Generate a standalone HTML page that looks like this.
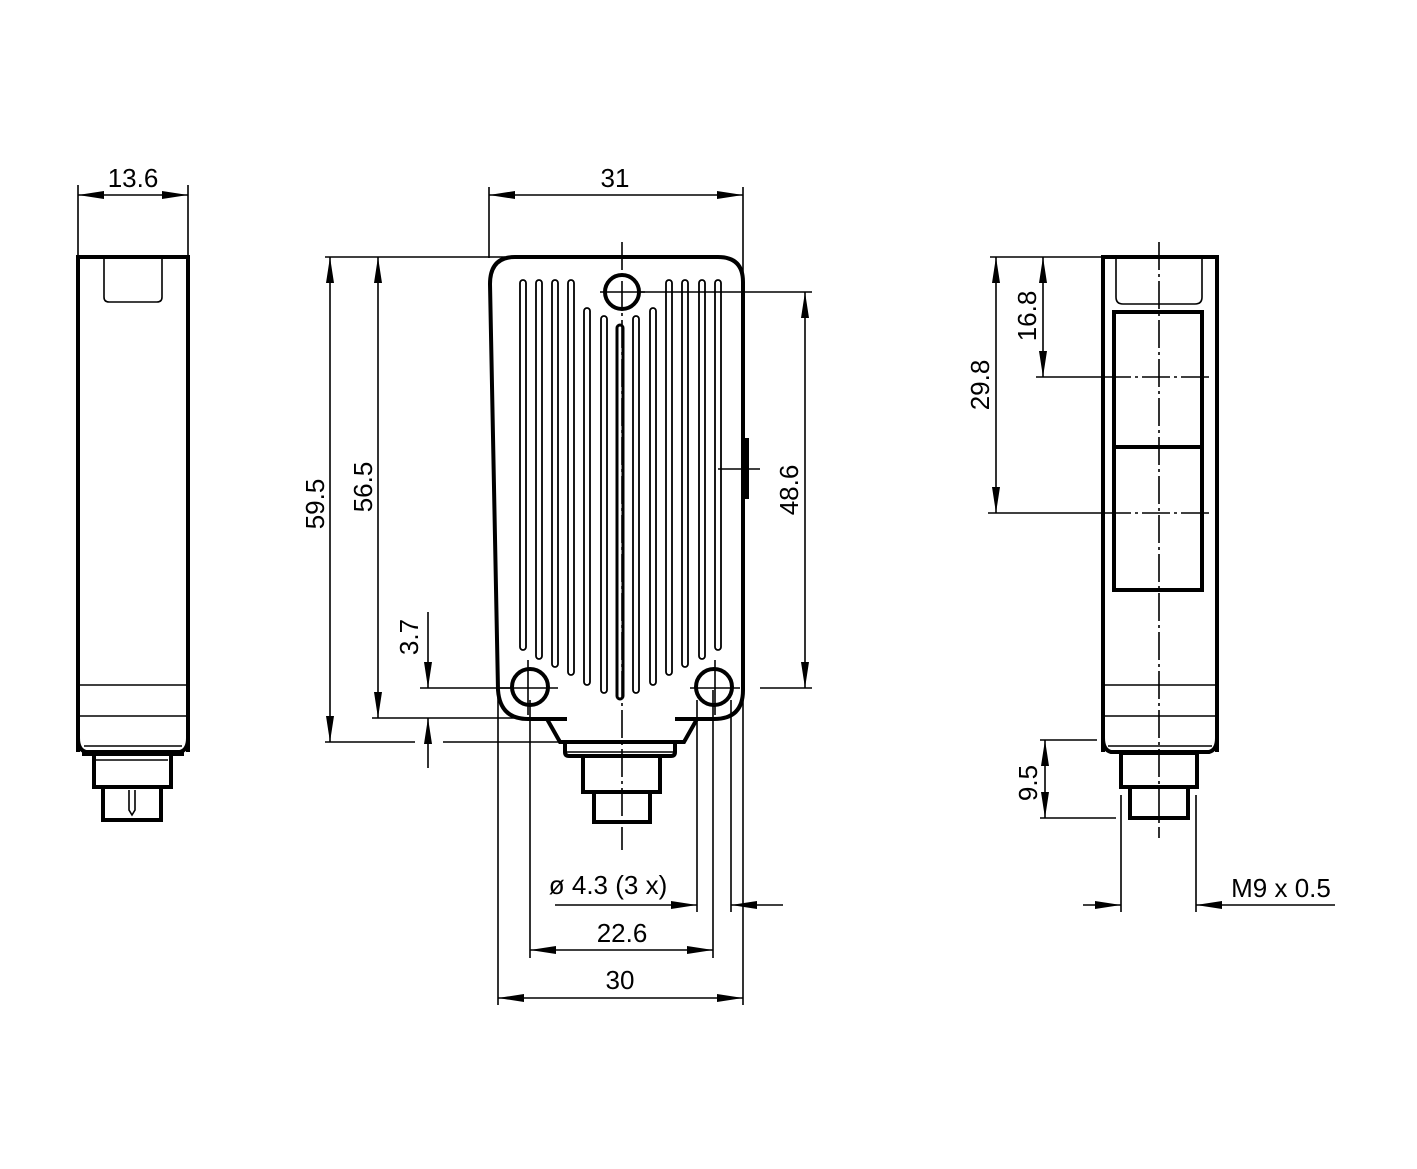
<!DOCTYPE html>
<html><head><meta charset="utf-8"><style>html,body{margin:0;padding:0;background:#fff}svg{display:block}text{font-family:"Liberation Sans",Arial,sans-serif;font-size:26px;fill:#000}</style></head><body>
<svg width="1417" height="1169" viewBox="0 0 1417 1169" xmlns="http://www.w3.org/2000/svg">
<defs>
<marker id="a" viewBox="0 0 26 8" refX="26" refY="4" markerWidth="26" markerHeight="8" markerUnits="userSpaceOnUse" orient="auto-start-reverse"><path d="M0,0 L26,4 L0,8 Z" fill="#000"/></marker>
</defs>
<g fill="none" stroke="#000">
<!-- LEFT VIEW -->
<g stroke-width="1.6">
<line x1="78" y1="185" x2="78" y2="255"/><line x1="188" y1="185" x2="188" y2="255"/>
<line x1="78" y1="195" x2="188" y2="195" marker-start="url(#a)" marker-end="url(#a)"/>
<line x1="78" y1="685" x2="188" y2="685"/><line x1="78" y1="716" x2="188" y2="716"/>
<path d="M104,257 V297 Q104,302 109,302 H157 Q162,302 162,297 V257"/>
<line x1="84" y1="746" x2="182" y2="746"/>
<line x1="96" y1="760" x2="168" y2="760"/>
<path d="M129,790 V810 L132,815 L135,810 V790"/>
</g>
<g stroke-width="4">
<path d="M78,752 V257 H188 V752"/>
<path d="M78,738 Q78,750 86,752 H180 Q188,750 188,738"/>
<path d="M84,752 V754 H182 V752"/>
<rect x="94" y="754" width="77" height="33"/>
<rect x="103" y="787" width="58" height="33"/>
</g>

<!-- MAIN VIEW -->
<g stroke-width="1.6">
<line x1="489" y1="187" x2="489" y2="258"/><line x1="743" y1="187" x2="743" y2="290"/>
<line x1="489" y1="195" x2="743" y2="195" marker-start="url(#a)" marker-end="url(#a)"/>
<line x1="325" y1="257" x2="505" y2="257"/>
<line x1="330" y1="257" x2="330" y2="742" marker-start="url(#a)" marker-end="url(#a)"/>
<line x1="378" y1="257" x2="378" y2="718" marker-start="url(#a)" marker-end="url(#a)"/>
<line x1="325" y1="742" x2="415" y2="742"/><line x1="443" y1="742" x2="565" y2="742"/>
<line x1="372" y1="718" x2="545" y2="718"/>
<line x1="420" y1="688" x2="512" y2="688"/>
<line x1="428" y1="612" x2="428" y2="688" marker-end="url(#a)"/>
<line x1="428" y1="768" x2="428" y2="718" marker-end="url(#a)"/>
<line x1="640" y1="292" x2="812" y2="292"/>
<line x1="760" y1="688" x2="812" y2="688"/>
<line x1="805" y1="292" x2="805" y2="688" marker-start="url(#a)" marker-end="url(#a)"/>
<line x1="718" y1="469" x2="760" y2="469"/>
<!-- hole crosshairs -->
<line x1="600" y1="292" x2="645" y2="292"/>
<line x1="500" y1="688" x2="558" y2="688"/>
<line x1="690" y1="688" x2="740" y2="688"/>
<line x1="528" y1="660" x2="528" y2="715"/>
<!-- vertical ext lines below -->
<line x1="498" y1="690" x2="498" y2="1005"/>
<line x1="530" y1="700" x2="530" y2="958"/>
<line x1="697" y1="700" x2="697" y2="912"/>
<line x1="713" y1="690" x2="713" y2="958"/>
<line x1="731" y1="700" x2="731" y2="912"/>
<line x1="743" y1="690" x2="743" y2="1005"/>
<line x1="555" y1="905" x2="697" y2="905" marker-end="url(#a)"/>
<line x1="783" y1="905" x2="731" y2="905" marker-end="url(#a)"/>
<line x1="530" y1="950" x2="713" y2="950" marker-start="url(#a)" marker-end="url(#a)"/>
<line x1="498" y1="998" x2="743" y2="998" marker-start="url(#a)" marker-end="url(#a)"/>
<line x1="622" y1="242" x2="622" y2="850" stroke-dasharray="28,4,3,4"/>
<line x1="715" y1="660" x2="715" y2="715"/>
</g>
<g stroke-width="1.8">
<rect x="520" y="280" width="6" height="370" rx="3"/>
<rect x="536" y="280" width="6" height="379" rx="3"/>
<rect x="552" y="280" width="6" height="387" rx="3"/>
<rect x="568" y="280" width="6" height="395" rx="3"/>
<rect x="584" y="308" width="6" height="377" rx="3"/>
<rect x="601" y="316" width="6" height="377" rx="3"/>
<rect x="617" y="325" width="6" height="374" rx="3" stroke-width="3"/>
<rect x="633" y="316" width="6" height="377" rx="3"/>
<rect x="650" y="308" width="6" height="377" rx="3"/>
<rect x="666" y="280" width="6" height="395" rx="3"/>
<rect x="682" y="280" width="6" height="387" rx="3"/>
<rect x="699" y="280" width="6" height="379" rx="3"/>
<rect x="715" y="280" width="6" height="370" rx="3"/>
</g>
<g stroke-width="4">
<path d="M515,257 H718 Q743,257 743,282 V690 Q743,719 714,719 H693"/>
<path d="M515,257 Q490,257 490,284 L498,690 Q500,719 528,719 H567"/>
<path d="M547,719 L560,742 H684 L697,719 M675,719 H697"/>
<path d="M743,440 H747 V497 H743"/>
<circle cx="622" cy="292" r="17"/>
<circle cx="530" cy="687" r="18"/>
<circle cx="714" cy="687" r="18"/>
<path d="M565,742 V752 Q565,756 569,756 H671 Q675,756 675,752 V742"/>
<rect x="583" y="756" width="77" height="36"/>
<rect x="594" y="792" width="56" height="30"/>
</g>
<line x1="565" y1="752" x2="675" y2="752" stroke-width="1.6"/>

<!-- RIGHT VIEW -->
<g stroke-width="1.6">
<line x1="990" y1="257" x2="1103" y2="257"/>
<line x1="996" y1="257" x2="996" y2="513" marker-start="url(#a)" marker-end="url(#a)"/>
<line x1="1043" y1="257" x2="1043" y2="377" marker-start="url(#a)" marker-end="url(#a)"/>
<line x1="1036" y1="377" x2="1103" y2="377"/>
<line x1="988" y1="513" x2="1103" y2="513"/>
<line x1="1103" y1="377" x2="1210" y2="377" stroke-dasharray="28,4,3,4"/>
<line x1="1103" y1="513" x2="1210" y2="513" stroke-dasharray="28,4,3,4"/>
<line x1="1159" y1="242" x2="1159" y2="838" stroke-dasharray="28,4,3,4"/>
<path d="M1116,257 V297 Q1116,304 1123,304 H1195 Q1202,304 1202,297 V257"/>
<line x1="1103" y1="685" x2="1217" y2="685"/><line x1="1103" y1="716" x2="1217" y2="716"/>
<line x1="1108" y1="746" x2="1212" y2="746"/>
<line x1="1040" y1="740" x2="1097" y2="740"/>
<line x1="1040" y1="818" x2="1116" y2="818"/>
<line x1="1045" y1="740" x2="1045" y2="818" marker-start="url(#a)" marker-end="url(#a)"/>
<line x1="1121" y1="795" x2="1121" y2="912"/>
<line x1="1196" y1="795" x2="1196" y2="912"/>
<line x1="1083" y1="905" x2="1121" y2="905" marker-end="url(#a)"/>
<line x1="1335" y1="905" x2="1196" y2="905" marker-end="url(#a)"/>
</g>
<g stroke-width="4">
<path d="M1103,752 V257 H1217 V752"/>
<path d="M1103,738 Q1103,750 1111,752 H1209 Q1217,750 1217,738"/>
<rect x="1114" y="312" width="88" height="278"/>
<line x1="1114" y1="447" x2="1202" y2="447"/>
<rect x="1121" y="753" width="76" height="34"/>
<rect x="1130" y="787" width="58" height="31"/>
</g>
</g>
<!-- TEXT -->
<text x="133" y="187" text-anchor="middle">13.6</text>
<text x="615" y="187" text-anchor="middle">31</text>
<text transform="translate(324,504) rotate(-90)" text-anchor="middle">59.5</text>
<text transform="translate(372,487) rotate(-90)" text-anchor="middle">56.5</text>
<text transform="translate(418,637) rotate(-90)" text-anchor="middle">3.7</text>
<text transform="translate(798,490) rotate(-90)" text-anchor="middle">48.6</text>
<text x="608" y="894" text-anchor="middle">ø 4.3 (3 x)</text>
<text x="622" y="942" text-anchor="middle">22.6</text>
<text x="620" y="989" text-anchor="middle">30</text>
<text transform="translate(989,385) rotate(-90)" text-anchor="middle">29.8</text>
<text transform="translate(1036,316) rotate(-90)" text-anchor="middle">16.8</text>
<text transform="translate(1037,783) rotate(-90)" text-anchor="middle">9.5</text>
<text x="1281" y="897" text-anchor="middle">M9 x 0.5</text>
</svg>
</body></html>
